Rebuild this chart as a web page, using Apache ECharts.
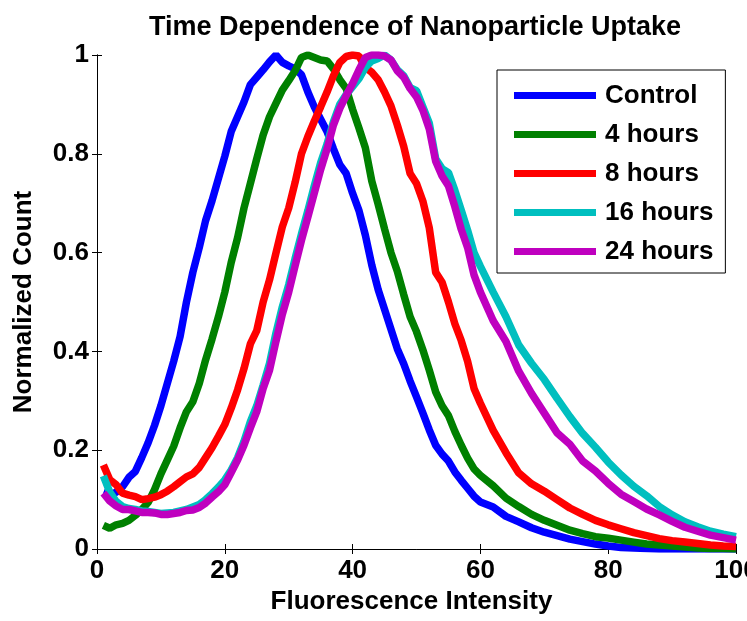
<!DOCTYPE html>
<html>
<head>
<meta charset="utf-8">
<script src="https://cdn.jsdelivr.net/npm/echarts@6/dist/echarts.min.js"></script>
<style>
  html, body { margin: 0; padding: 0; background: #fff; }
  #chart { width: 747px; height: 621px; }
</style>
</head>
<body>
<div id="chart"></div>
<script>
// Fluorescence intensity sample positions
var intensity = [
  1,2,3,4,5,6,7,8,9,10,11,12,13,14,15,16,17,18,19,20,
  21,22,23,24,25,26,27,28,29,30,31,32,33,34,35,36,37,38,39,40,
  41,42,43,44,45,46,47,48,49,50,51,52,53,54,55,56,57,58,59,60,
  62,64,66,68,70,72,74,76,78,80,82,84,86,88,90,92,94,96,98,100
];

var seriesNames = ["Control", "4 hours", "8 hours", "16 hours", "24 hours"];

var control = [
  0.115,0.11,0.115,0.126,0.145,0.157,0.185,0.215,0.25,0.29,
  0.335,0.38,0.43,0.5,0.56,0.61,0.665,0.705,0.75,0.795,
  0.845,0.875,0.905,0.94,0.955,0.97,0.986,1.0,0.985,0.978,
  0.972,0.96,0.925,0.895,0.87,0.845,0.81,0.778,0.76,0.72,
  0.685,0.635,0.575,0.525,0.485,0.445,0.405,0.375,0.34,0.308,
  0.275,0.241,0.21,0.192,0.178,0.156,0.139,0.123,0.107,0.095,
  0.085,0.066,0.055,0.043,0.034,0.027,0.02,0.015,0.01,0.006,
  0.003,0.002,0.001,0,0,0,0,0,0,0
];

var hours4 = [
  0.048,0.042,0.049,0.052,0.058,0.068,0.08,0.094,0.12,0.152,
  0.18,0.208,0.245,0.278,0.298,0.335,0.383,0.425,0.47,0.52,
  0.58,0.63,0.69,0.74,0.79,0.838,0.875,0.902,0.929,0.948,
  0.968,0.995,1.0,0.995,0.99,0.988,0.972,0.95,0.932,0.89,
  0.852,0.812,0.745,0.698,0.648,0.6,0.562,0.515,0.47,0.44,
  0.403,0.362,0.318,0.29,0.27,0.238,0.21,0.184,0.162,0.149,
  0.128,0.103,0.086,0.07,0.058,0.048,0.038,0.031,0.025,0.022,
  0.018,0.014,0.01,0.008,0.006,0.004,0.002,0.001,0.001,0
];

var hours8 = [
  0.17,0.14,0.13,0.113,0.109,0.106,0.1,0.102,0.105,0.11,
  0.117,0.126,0.136,0.146,0.152,0.165,0.185,0.205,0.228,0.252,
  0.285,0.322,0.365,0.415,0.442,0.5,0.545,0.599,0.652,0.69,
  0.742,0.8,0.835,0.866,0.895,0.925,0.958,0.985,0.997,1.0,
  0.998,0.975,0.965,0.95,0.925,0.897,0.858,0.815,0.76,0.74,
  0.704,0.65,0.56,0.54,0.5,0.456,0.422,0.38,0.325,0.295,
  0.24,0.195,0.154,0.132,0.117,0.1,0.083,0.07,0.058,0.049,
  0.041,0.033,0.027,0.021,0.017,0.014,0.011,0.008,0.006,0.005
];

var hours16 = [
  0.148,0.115,0.096,0.086,0.082,0.08,0.077,0.076,0.074,0.072,
  0.073,0.074,0.077,0.08,0.085,0.09,0.1,0.112,0.125,0.14,
  0.16,0.185,0.218,0.258,0.29,0.332,0.376,0.437,0.49,0.535,
  0.588,0.638,0.685,0.735,0.782,0.82,0.865,0.9,0.92,0.936,
  0.952,0.975,0.988,0.993,1.0,0.99,0.97,0.958,0.934,0.928,
  0.895,0.862,0.79,0.77,0.762,0.726,0.686,0.645,0.6,0.572,
  0.52,0.47,0.413,0.376,0.343,0.305,0.268,0.234,0.206,0.176,
  0.15,0.127,0.108,0.086,0.069,0.055,0.045,0.036,0.03,0.025
];

var hours24 = [
  0.113,0.097,0.087,0.08,0.08,0.077,0.074,0.074,0.073,0.07,
  0.07,0.072,0.074,0.078,0.079,0.084,0.093,0.105,0.116,0.13,
  0.155,0.18,0.21,0.245,0.278,0.325,0.362,0.42,0.475,0.52,
  0.573,0.625,0.672,0.72,0.768,0.81,0.858,0.892,0.918,0.942,
  0.97,0.995,1.0,1.0,0.998,0.99,0.968,0.955,0.932,0.915,
  0.888,0.85,0.785,0.755,0.735,0.693,0.647,0.61,0.555,0.52,
  0.462,0.42,0.36,0.315,0.275,0.235,0.212,0.178,0.158,0.133,
  0.111,0.096,0.081,0.069,0.056,0.044,0.036,0.028,0.023,0.018
];

var seriesValues = [control, hours4, hours8, hours16, hours24];
var seriesColors = ["#0000FF", "#008000", "#FF0000", "#00BFBF", "#BF00BF"];

var FONT = "'Liberation Sans', Arial, Helvetica, sans-serif";

var chart = echarts.init(document.getElementById('chart'), null, { renderer: 'canvas' });

var series = seriesNames.map(function (name, k) {
  return {
    name: name,
    type: 'line',
    showSymbol: false,
    symbol: 'none',
    color: seriesColors[k],
    lineStyle: { width: 7.5, color: seriesColors[k] },
    data: intensity.map(function (x, i) { return [x, seriesValues[k][i]]; }),
    clip: true,
    animation: false
  };
});

var boxAxisCommon = {
  axisLine: { show: true, lineStyle: { color: '#000', width: 1 } },
  axisTick: { show: true, inside: true, length: 5, lineStyle: { color: '#000' } },
  splitLine: { show: false }
};

var option = {
  animation: false,
  backgroundColor: '#ffffff',
  title: {
    text: 'Time Dependence of Nanoparticle Uptake',
    left: 410,
    textAlign: 'center',
    top: 9,
    textStyle: { fontFamily: FONT, fontWeight: 'bold', fontSize: 27, color: '#000' }
  },
  grid: { left: 97, right: 11, top: 55, bottom: 72, containLabel: false, outerBoundsMode: 'none' },
  legend: {
    data: seriesNames,
    orient: 'vertical',
    left: 497,
    top: 70,
    icon: 'rect',
    itemWidth: 82,
    itemHeight: 7,
    itemGap: 8,
    padding: [10, 12, 6, 17],
    borderColor: '#000',
    borderWidth: 1,
    backgroundColor: '#fff',
    textStyle: { fontFamily: FONT, fontWeight: 'bold', fontSize: 26, color: '#000', lineHeight: 31, padding: [0, 0, 0, 4] }
  },
  xAxis: [
    Object.assign({
      type: 'value', min: 0, max: 100, interval: 20, position: 'bottom',
      name: 'Fluorescence Intensity', nameLocation: 'middle', nameGap: 38,
      nameTextStyle: { fontFamily: FONT, fontWeight: 'bold', fontSize: 26, color: '#000', padding: [0, 10, 0, 0] },
      axisLabel: { fontFamily: FONT, fontWeight: 'bold', fontSize: 26, color: '#000', margin: 9, hideOverlap: false }
    }, boxAxisCommon),
    Object.assign({
      type: 'value', min: 0, max: 100, interval: 20, position: 'top',
      axisLabel: { show: false }
    }, boxAxisCommon)
  ],
  yAxis: [
    Object.assign({
      type: 'value', min: 0, max: 1, interval: 0.2, position: 'left',
      name: 'Normalized Count', nameLocation: 'middle', nameGap: 60,
      nameTextStyle: { fontFamily: FONT, fontWeight: 'bold', fontSize: 26, color: '#000' },
      axisLabel: { fontFamily: FONT, fontWeight: 'bold', fontSize: 26, color: '#000', margin: 8 }
    }, boxAxisCommon),
    Object.assign({
      type: 'value', min: 0, max: 1, interval: 0.2, position: 'right',
      axisLabel: { show: false }
    }, boxAxisCommon)
  ],
  series: series
};

chart.setOption(option);
</script>
</body>
</html>
